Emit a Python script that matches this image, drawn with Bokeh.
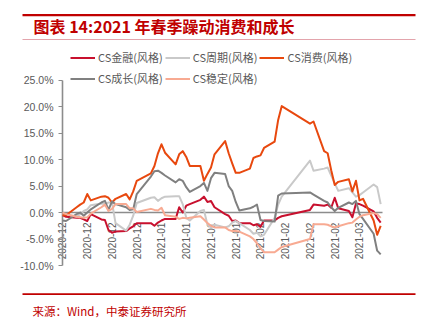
import math
import pandas as pd
from bokeh.plotting import figure
from bokeh.models import (Range1d, FixedTicker, DatetimeTickFormatter, PrintfTickFormatter,
                          Legend, LegendItem, Label, BoxAnnotation)
from bokeh.embed import file_html
from bokeh.resources import INLINE

# ---------------- data ----------------
dates = [
    "2020-12-10", "2020-12-11",
    "2020-12-14", "2020-12-15", "2020-12-16", "2020-12-17", "2020-12-18",
    "2020-12-21", "2020-12-22", "2020-12-23", "2020-12-24", "2020-12-25",
    "2020-12-28", "2020-12-29", "2020-12-30", "2020-12-31",
    "2021-01-04", "2021-01-05", "2021-01-06", "2021-01-07", "2021-01-08",
    "2021-01-11", "2021-01-12", "2021-01-13", "2021-01-14", "2021-01-15",
    "2021-01-18", "2021-01-19", "2021-01-20", "2021-01-21", "2021-01-22",
    "2021-01-25", "2021-01-26", "2021-01-27", "2021-01-28", "2021-01-29",
    "2021-02-01", "2021-02-02", "2021-02-03", "2021-02-04", "2021-02-05",
    "2021-02-08", "2021-02-09", "2021-02-10",
    "2021-02-18", "2021-02-19",
    "2021-02-22", "2021-02-23", "2021-02-24", "2021-02-25", "2021-02-26",
    "2021-03-01", "2021-03-02", "2021-03-03", "2021-03-04", "2021-03-05",
    "2021-03-08", "2021-03-09", "2021-03-10",
]

finance = [
    -0.5, -0.8, -1.0, -1.0, -1.3, -1.6, -0.3, -1.3, -1.4, -3.3, -3.8, -3.6, -3.5, -3.0, -2.6, -2.0,
    -2.0, -2.5, -1.9, -1.5, -1.2, -1.2, 1.0, 0.0, 1.3, 1.6, 2.4, 3.0, 2.0, 2.2, 1.0,
    -0.3, -0.6, -1.6, -1.5, -2.0,
    -2.0, -2.4, -2.2, -2.7, -1.5, -1.5, -1.0, -0.7, 0.5, 1.5, 1.3, 1.5, 0.9, 2.8, 0.8,
    0.3, -0.9, 1.7, 1.6, 1.3, 0.2, -1.0, -1.9,
]
cycle = [
    -0.5, -0.3, -0.8, -0.3, 0.3, 0.6, 1.4, 1.7, 1.6, 1.9, 1.9, -2.0, -3.4, -2.3, -0.6, 1.8,
    2.8, 2.9, 2.2, 2.7, 3.0, 3.1, 3.1, 1.6, -1.0, -1.5, 0.3, 0.5, -2.3, -2.8, -2.3,
    -2.8, -2.6, -1.9, -1.6, -2.0,
    -3.3, -4.0, -3.8, -4.5, -4.2, -1.0, 1.5, 3.0, 9.8, 7.9, 8.3, 8.5, 7.0, 5.5, 4.1,
    4.6, 3.8, 3.0, 3.3, 3.8, 5.3, 4.8, 1.6,
]
consume = [
    -0.5, -0.5, 1.0, 1.5, 1.9, 3.5, 2.3, 3.0, 3.1, 2.8, 1.9, 2.6, 3.5, 2.5, 4.0, 6.0,
    7.4, 8.8, 11.2, 12.9, 11.3, 9.1, 11.0, 11.6, 10.5, 8.8, 8.8, 6.0, 7.3, 8.5, 11.0,
    13.5, 11.2, 9.3, 7.5, 7.5,
    8.3, 10.3, 10.6, 10.8, 12.2, 13.4, 17.5, 20.1, 16.8, 17.2, 11.6, 11.2, 8.0, 5.2, 5.8,
    6.3, 4.0, 6.0, 2.3, 2.6, -1.5, -4.2, -2.5,
]
growth = [
    -1.5, -1.6, -0.3, 0.0, -0.6, 0.0, 0.6, 1.9, 2.2, 0.5, 2.1, 1.6, 1.0, 0.5, 0.6, 3.5,
    6.8, 7.8, 7.9, 7.5, 7.0, 5.7, 6.3, 6.0, 4.8, 3.9, 5.0, 5.6, 4.1, 6.5, 7.5,
    7.3, 5.0, 4.1, 2.0, 0.4,
    0.8, 1.1, 1.5, -1.4, -1.6, -1.7, 3.2, 3.6, 3.8, 3.4, 2.2, 1.9, 1.0, 0.3, 0.9,
    1.9, 1.6, 2.2, -0.3, -1.2, -4.0, -7.2, -7.9,
]
stable = [
    0.0, -0.3, -0.8, -0.9, -1.0, -0.9, -0.2, 1.0, 1.5, 0.3, 0.7, 1.6, 1.6, 0.8, 0.8, 0.1,
    0.7, 0.5, 0.4, 0.9, -0.5, -0.8, -1.2, -1.0, -1.1, -1.0, -0.7, -1.3, -2.0, -2.5, -2.8,
    -2.8, -3.3, -3.5, -3.5, -3.6,
    -4.5, -5.0, -5.8, -6.7, -7.5, -7.5, -7.0, -6.5, -5.0, -2.2, -2.2, -2.3, -2.6, -2.8, -2.6,
    -2.0, -1.9, -1.3, -0.8, -0.5, -0.1, -0.3, -1.0,
]

series_names = ["CS金融(风格)", "CS周期(风格)", "CS消费(风格)", "CS成长(风格)", "CS稳定(风格)"]
series_values = [finance, cycle, consume, growth, stable]
series_colors = ["#C8102E", "#C9C9C9", "#E8480E", "#808080", "#F8AA92"]

y_ticks = [-10, -5, 0, 5, 10, 15, 20, 25]
title_text = "图表 14:2021 年春季躁动消费和成长"
source_text = "来源：Wind，中泰证券研究所"

# ---------------- layout ----------------
W, H = 421, 331
x_dates = pd.to_datetime(dates)
first, last = x_dates[0], x_dates[-1]
span_days = (last - first).days

PX_FIRST, PX_LAST = 62.0, 380.2          # screen x of first / last date
PX_TOP_V, PX_BOT_V = 79.7, 265.0         # screen y of 25% / -10%
ppd = (PX_LAST - PX_FIRST) / span_days
ppu = (PX_BOT_V - PX_TOP_V) / (y_ticks[-1] - y_ticks[0])

x_start = first - pd.Timedelta(days=PX_FIRST / ppd)
x_end = first + pd.Timedelta(days=(W - PX_FIRST) / ppd)
y_end = y_ticks[-1] + PX_TOP_V / ppu
y_start = y_ticks[0] - (H - PX_BOT_V) / ppu

p = figure(width=W, height=H, x_axis_type="datetime",
           x_range=Range1d(x_start.to_pydatetime(), x_end.to_pydatetime()),
           y_range=Range1d(y_start, y_end),
           toolbar_location=None, output_backend="svg", title=None,
           min_border=0, min_border_left=0, min_border_right=0,
           min_border_top=0, min_border_bottom=0)
p.outline_line_color = None
p.xgrid.visible = False
p.ygrid.visible = False
p.background_fill_color = "white"
p.border_fill_color = "white"

def ms(ts):
    return ts.value / 1e6

# x axis at zero
tick_dates = pd.date_range(first, last, freq="7D")
xa = p.xaxis[0]
xa.fixed_location = 0
xa.ticker = FixedTicker(ticks=[ms(t) for t in tick_dates])
xa.formatter = DatetimeTickFormatter(days="%Y-%m", months="%Y-%m", hours="%Y-%m",
                                     years="%Y-%m", milliseconds="%Y-%m", seconds="%Y-%m",
                                     minsec="%Y-%m", minutes="%Y-%m", hourmin="%Y-%m")
xa.major_label_orientation = math.pi / 2
xa.bounds = (ms(first), ms(last) + 0.5 * 86400000)
xa.axis_line_color = "#8C8C8C"
xa.axis_line_width = 1.6
xa.major_tick_line_color = None
xa.minor_tick_line_color = None
xa.major_label_standoff = 4
xa.major_label_text_font = "Liberation Sans"
xa.major_label_text_font_size = "10px"
xa.major_label_text_color = "#595959"
xa.level = "underlay"

# y axis at first date
ya = p.yaxis[0]
ya.fixed_location = ms(first)
ya.ticker = FixedTicker(ticks=y_ticks)
ya.formatter = PrintfTickFormatter(format="%.1f%%")
ya.bounds = (y_ticks[0], y_ticks[-1])
ya.axis_line_color = "#8C8C8C"
ya.axis_line_width = 1.6
ya.major_tick_line_color = "#8C8C8C"
ya.major_tick_line_width = 1.2
ya.major_tick_out = 4
ya.major_tick_in = 0
ya.minor_tick_line_color = None
ya.major_label_standoff = 5
ya.major_label_text_font = "Liberation Sans"
ya.major_label_text_font_size = "10.5px"
ya.major_label_text_color = "#595959"
ya.level = "underlay"

items = []
for name, vals, col in zip(series_names, series_values, series_colors):
    r = p.line(x_dates, vals, line_color=col, line_width=2.0, line_join="round")
    items.append(LegendItem(label=name, renderers=[r]))

legend = Legend(items=items, orientation="horizontal", ncols=3,
                location=(70, H - 87.5))
legend.border_line_color = None
legend.background_fill_alpha = 0
legend.padding = 0
legend.margin = 0
legend.spacing = 2
legend.glyph_width = 25
legend.glyph_height = 19
legend.label_height = 19
legend.label_standoff = 3
legend.label_text_font = "Noto Sans CJK SC"
legend.label_text_font_size = "11px"
legend.label_text_color = "#595959"
p.add_layout(legend)

def hbar(y_top, thickness, color, alpha=1.0):
    return BoxAnnotation(left=22, right=415, top=H - y_top, bottom=H - y_top - thickness,
                         left_units="screen", right_units="screen",
                         top_units="screen", bottom_units="screen",
                         fill_color=color, fill_alpha=alpha, line_color=None, level="overlay")

p.add_layout(hbar(13.5, 2.2, "#C00000"))
p.add_layout(hbar(38.5, 1.0, "#E3A4AC"))
p.add_layout(hbar(292.8, 1.6, "#C00000"))

p.add_layout(Label(x=33, y=H - 25.5, x_units="screen", y_units="screen", text=title_text,
                   text_font="Noto Sans CJK SC", text_font_size="16px", text_font_style="bold",
                   text_color="#C00000", text_baseline="middle"))
p.add_layout(Label(x=32, y=H - 310.5, x_units="screen", y_units="screen", text=source_text,
                   text_font="Noto Sans CJK SC", text_font_size="11.5px",
                   text_color="#C00000", text_baseline="middle"))

open("out.html", "w").write(file_html(p, INLINE))
